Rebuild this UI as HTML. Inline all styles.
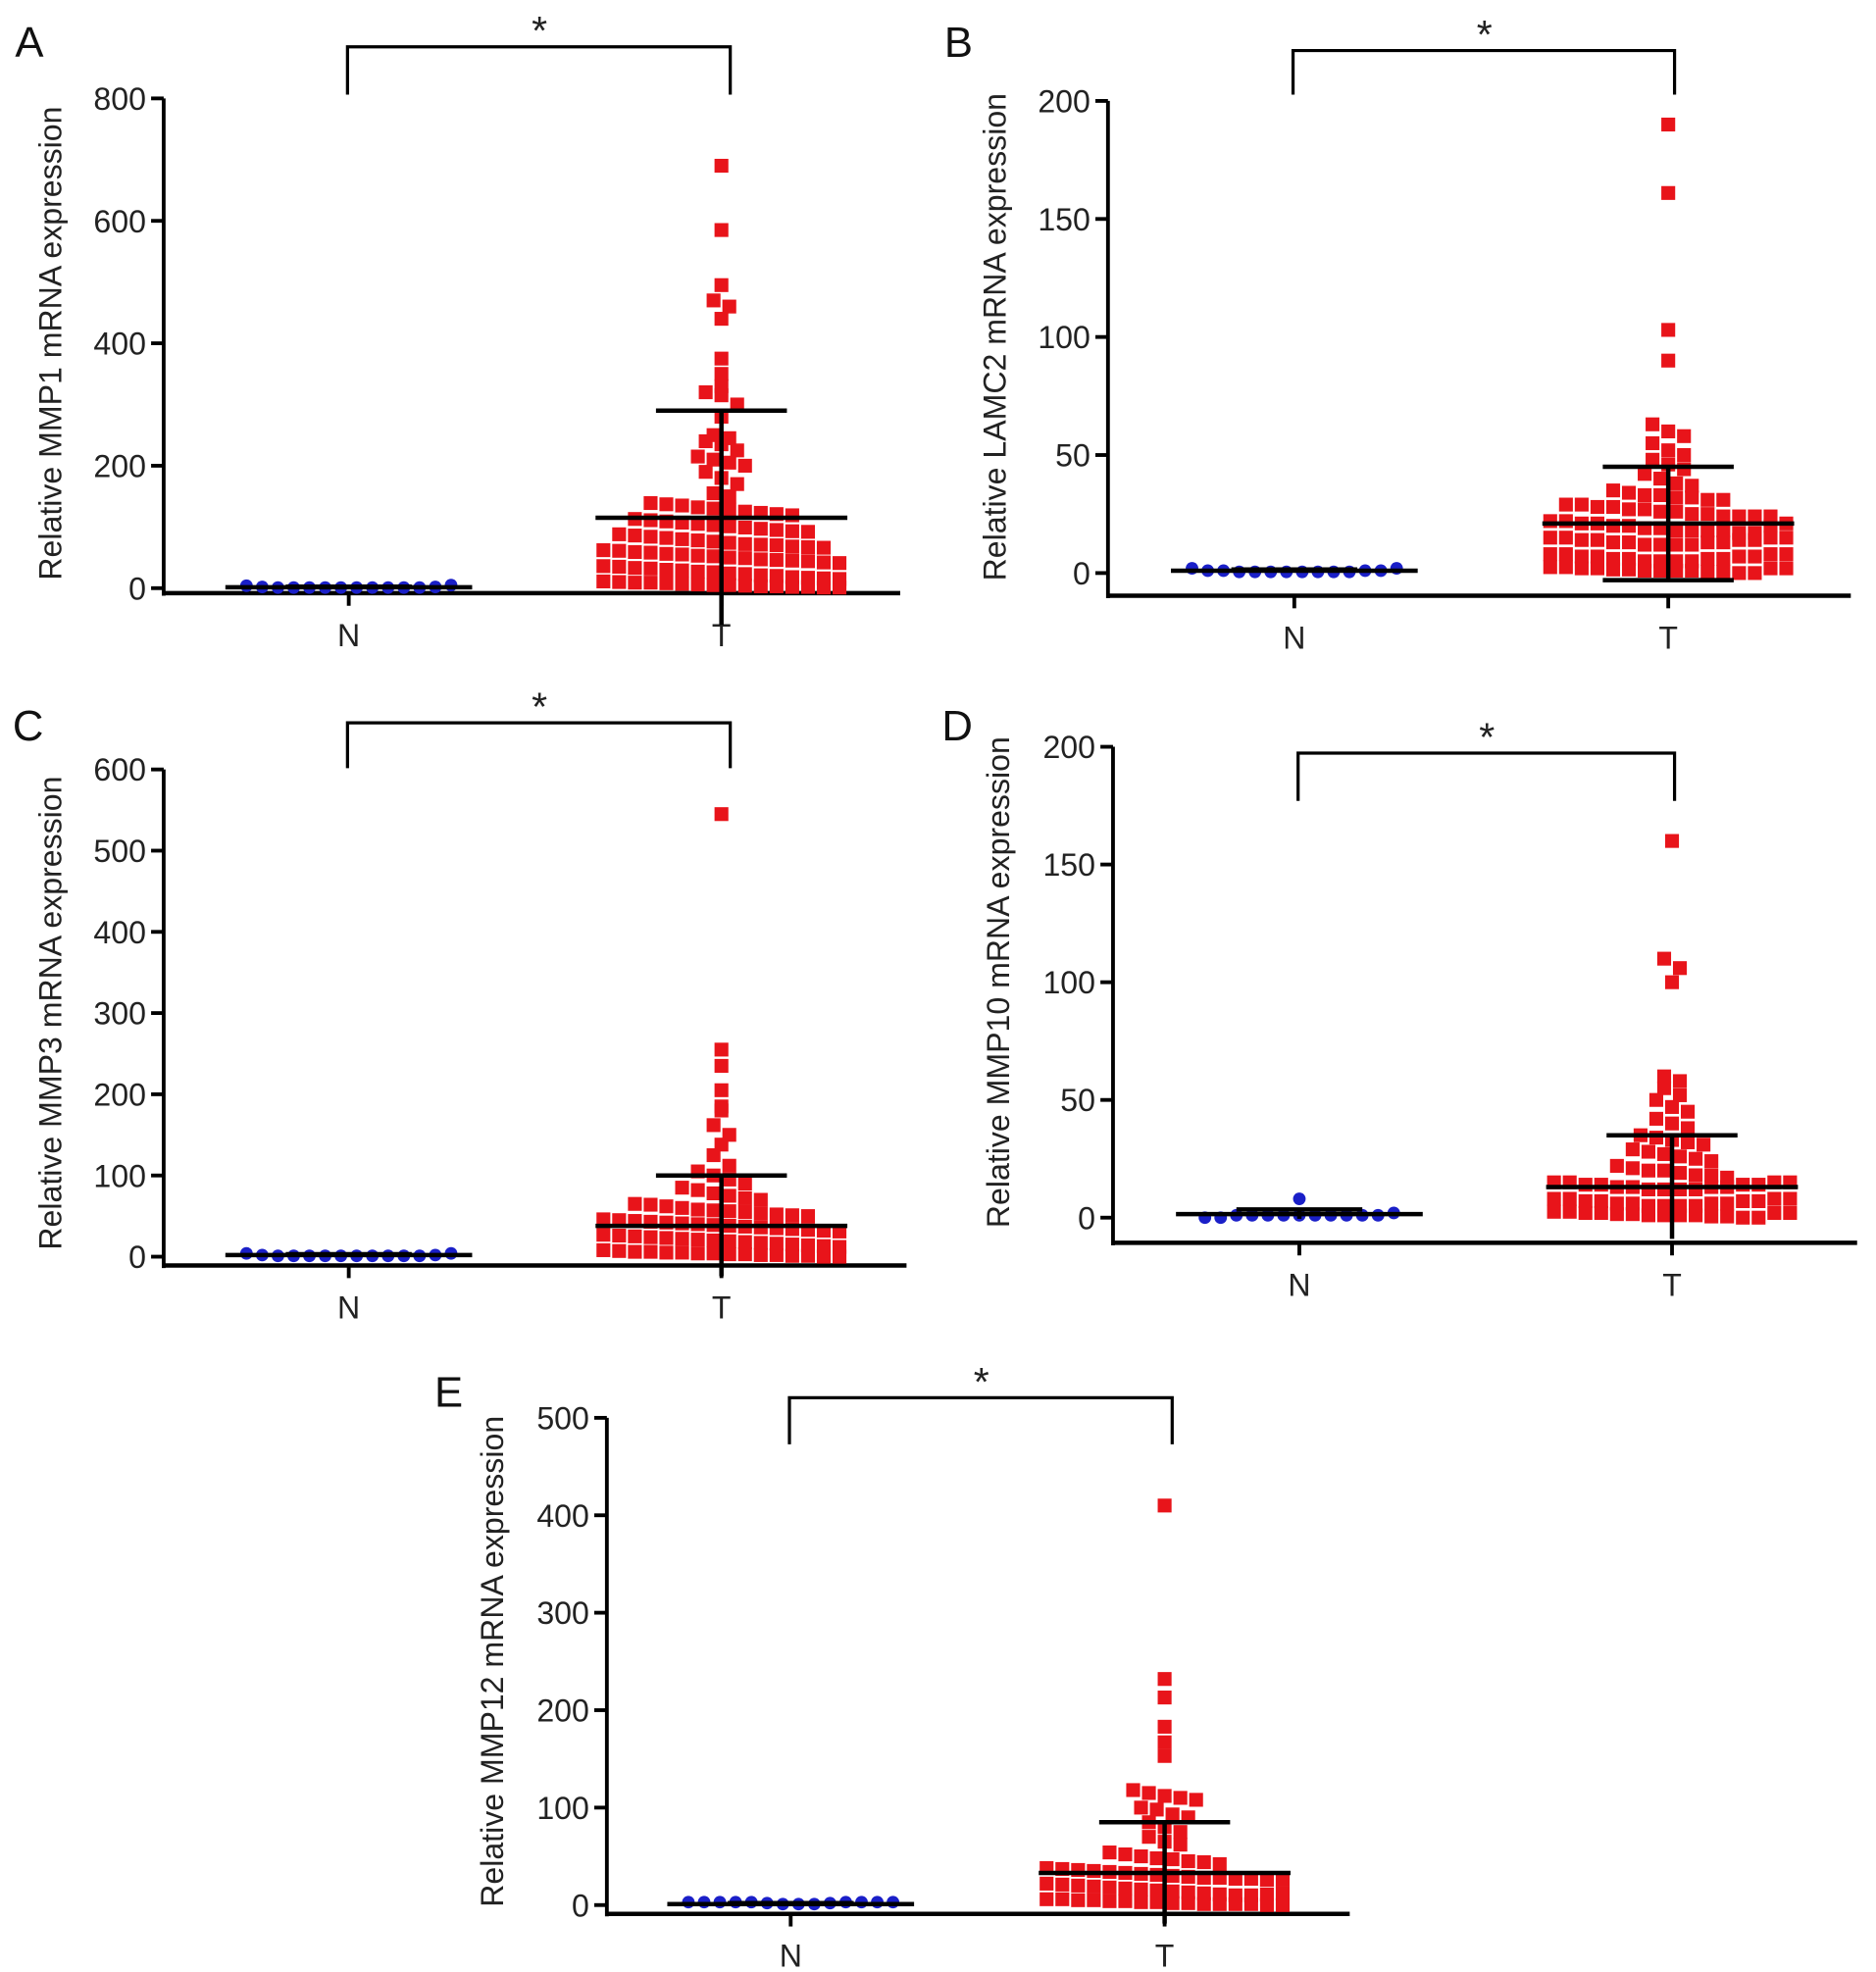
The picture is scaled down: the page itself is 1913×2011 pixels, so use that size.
<!DOCTYPE html>
<html><head><meta charset="utf-8"><style>
html,body{margin:0;padding:0;background:#fff}
svg{display:block;font-family:"Liberation Sans",Arial,sans-serif}
</style></head><body>
<svg id="fig" width="1913" height="2011" viewBox="0 0 1490 1566" xmlns="http://www.w3.org/2000/svg"></svg>
<script>
// ---- data ----
const panelLetters = ["A","B","C","D","E"];
const yTitles = ["Relative MMP1 mRNA expression","Relative LAMC2 mRNA expression","Relative MMP3 mRNA expression","Relative MMP10 mRNA expression","Relative MMP12 mRNA expression"];
const yMaxes = [800,200,600,200,500];
const yTickVals = [[0,200,400,600,800],[0,50,100,150,200],[0,100,200,300,400,500,600],[0,50,100,150,200],[0,100,200,300,400,500]];
const categories = ["N","T"];
const tMeans = [115,21,38,13,33];
const tSds = [175,24,62,22,52];
const tLowerCap = [false,true,false,false,false];
const nMeans = [1.5,1,2,1.5,1];
const nSds = [1,0.5,1,2,1];
const aN = [4,2,1,1,1,1,1,1,1,1,1,1,2,5];
const aT = [690,585,495,470,460,440,375,350,330,320,315,300,280,250,245,240,235,225,215,210,205,200,190,180,170,155,150,
 139,137,135,132,130,128,125,123,121,119,
 113,111,109,107,105,103,101,99,97,95,93,92,
 88,86,84,82,80,78,76,74,72,71,70,68,67,66,
 62,61,59,58,56,55,53,52,50,49,47,46,45,44,42,41,
 36,35,33,32,30,29,27,26,24,23,21,20,18,17,16,15,
 11,10,9,9,8,7,6,5,5,4,3,3,2,2,1,1];
const bN = [2,1,1,0.5,0.5,0.5,0.5,0.5,0.5,0.5,0.5,1,1,2];
const bT = [190,161,103,90,63,60,58,55,52,50,48,46,44,42,40,38,37,
 35,34,33,33,32,32,31,31,
 29,29,28,28,27,27,26,26,25,25,24,24,24,24,
 22,22,21,21,20,20,19,19,18,18,18,18,17,17,20,21,
 15,15,14,14,13,13,12,12,12,12,13,13,14,14,15,15,
 8,8,7,7,6,6,5,5,5,5,6,6,7,7,8,8,
 2.5,2.5,2,2,1.5,1.5,1,1,1,1,0.5,0.5,0,0,2,2];
const cN = [4,2,1,1,1,1,1,1,1,1,1,1,2,4];
const cT = [545,255,235,205,185,180,162,150,138,125,112,
 105,100,95,90,
 85,82,78,75,72,70,
 65,64,62,60,58,57,56,55,53,52,51,50,
 46,45,44,43,42,41,40,39,38,37,36,35,34,33,32,31,
 27,26,25,24,23,22,21,20,19,18,17,16,15,14,13,12,
 8,7,6,6,5,5,4,4,3,3,2,2,1,1,0,0];
const dN = [0,0,1,1,1,1,1,1,1,1,1,1,2,8];
const dT = [160,110,106,100,60,58,55,52,50,47,45,42,40,38,35,34,33,32,31,
 29,28,27,26,25,24,22,21,20,20,19,18,18,17,
 15,15,14,14,13,13,12,12,12,12,13,13,14,14,15,15,
 8,8,7,7,6,6,5,5,5,5,6,6,7,7,8,8,
 2.5,2.5,2,2,1.5,1.5,1,1,1,1,0.5,0.5,0,0,2,2];
const eN = [3,3,3,3,3,2,1,1,1,2,3,3,3,3];
const eT = [410,232,213,183,167,153,118,115,112,110,108,100,98,93,90,85,80,75,70,65,62,
 54,52,50,48,47,45,44,42,
 38,37,36,35,34,33,32,31,30,29,28,28,27,27,26,26,
 22,21,20,19,18,17,16,15,14,13,12,11,10,10,11,12,
 6,6,5,5,4,4,3,3,2,2,1,1,1,1,0,0];
const nSeries = [aN,bN,cN,dN,eN];
const tSeries = [aT,bT,cT,dT,eT];

// ---- layout (display coords) ----
const L = [
 {ax:130,yTop:78,y0:467,xa:471,xEnd:715,xN:277,xT:573,br:37,brB:75,brR:580,lx:12,ly:45,tx:42},
 {ax:880,yTop:80,y0:455,xa:473,xEnd:1470,xN:1028,xT:1325,br:40,brB:75,brR:1330,lx:750,ly:45,tx:792},
 {ax:130,yTop:611,y0:998,xa:1005,xEnd:720,xN:277,xT:573,br:574,brB:610,brR:580,lx:10,ly:588,tx:42},
 {ax:884,yTop:593,y0:967,xa:987,xEnd:1475,xN:1032,xT:1328,br:598,brB:636,brR:1330,lx:748,ly:588,tx:795},
 {ax:482,yTop:1126,y0:1513,xa:1520,xEnd:1072,xN:628,xT:925,br:1110,brB:1147,brR:931,lx:345,ly:1117,tx:393}
];
const NS="http://www.w3.org/2000/svg";
const svg=document.getElementById('fig');
function mk(tag,attrs,parent){const e=document.createElementNS(NS,tag);for(const k in attrs)e.setAttribute(k,attrs[k]);(parent||svg).appendChild(e);return e;}

for(let p=0;p<5;p++){
 const g=L[p];
 const grp=mk('g',{});
 
 
 const yS=v=>g.y0-(v/yMaxes[p])*(g.y0-g.yTop);
 const step=12.5;
 const lt=mk('text',{x:g.lx,y:g.ly,'font-size':34,fill:'#111'},grp);lt.textContent=panelLetters[p];
 
 
 const cy=(g.yTop+g.y0)/2;
 const yt=mk('text',{x:g.tx,y:cy,'font-size':25,fill:'#222','text-anchor':'middle',transform:`rotate(-90 ${g.tx} ${cy})`,'dominant-baseline':'middle'},grp);yt.textContent=yTitles[p];
 
 
 const ya=mk('line',{x1:g.ax,y1:g.yTop,x2:g.ax,y2:g.xa+2,stroke:'#000','stroke-width':3},grp);
 
 
 const xa=mk('line',{x1:g.ax-1,y1:g.xa,x2:g.xEnd,y2:g.xa,stroke:'#000','stroke-width':3.5},grp);
 
 
 yTickVals[p].forEach(v=>{
  const y=yS(v);
  const tk=mk('line',{x1:g.ax-10,y1:y,x2:g.ax,y2:y,stroke:'#000','stroke-width':3},grp);
  
  
  const tl=mk('text',{x:g.ax-14,y:y+9,'font-size':25,'text-anchor':'end',fill:'#222'},grp);tl.textContent=v;
  
  
 });
 [[g.xN,categories[0]],[g.xT,categories[1]]].forEach(([x,c])=>{
  const tk=mk('line',{x1:x,y1:g.xa,x2:x,y2:g.xa+10,stroke:'#000','stroke-width':3},grp);
  
  
  const tl=mk('text',{x:x,y:g.xa+42,'font-size':25,'text-anchor':'middle',fill:'#222'},grp);tl.textContent=c;
  
  
 });
 const br=mk('path',{d:`M${g.xN-1},${g.brB} V${g.br} H${g.brR} V${g.brB}`,fill:'none',stroke:'#000','stroke-width':2.5},grp);
 
 
 const st=mk('text',{x:(g.xN+g.brR)/2,y:g.br-2,'font-size':32,'text-anchor':'middle',fill:'#222'},grp);st.textContent='*';
 
 
 function swarm(vals,cx,kind){
  const rows={};
  vals.forEach(v=>{const r=Math.round((g.y0-yS(v))/step);(rows[r]=rows[r]||[]).push(v);});
  Object.keys(rows).forEach(r=>{
   const arr=rows[r];const n=arr.length;
   arr.forEach((v,i)=>{
    const x=cx+(i-(n-1)/2)*step;const y=yS(v);
    let m;
    if(kind==='T'){m=mk('rect',{x:x-5.5,y:y-5.5,width:11,height:11,fill:'#e8141a'},grp);
     }
    else{m=mk('circle',{cx:x,cy:y,r:5,fill:'#1a1fc8'},grp);
     }
    
   });
  });
 }
 swarm(nSeries[p],g.xN,'N');
 swarm(tSeries[p],g.xT,'T');
 function bars(cx,mean,sd,hw,sw,lowCap){
  const ml=mk('line',{x1:cx-hw,y1:yS(mean),x2:cx+hw,y2:yS(mean),stroke:'#000','stroke-width':3.5},grp);
  
  
  const eb=mk('line',{x1:cx,y1:yS(mean-sd),x2:cx,y2:yS(mean+sd),stroke:'#000','stroke-width':3.5},grp);
  
  
  const caps=lowCap?[mean+sd,mean-sd]:[mean+sd];
  caps.forEach(v=>{
   const c=mk('line',{x1:cx-sw,y1:yS(v),x2:cx+sw,y2:yS(v),stroke:'#000','stroke-width':3.5},grp);
   
   
  });
 }
 bars(g.xN,nMeans[p],nSds[p],98,50,false);
 bars(g.xT,tMeans[p],tSds[p],100,52,tLowerCap[p]);
}
</script>
</body></html>
